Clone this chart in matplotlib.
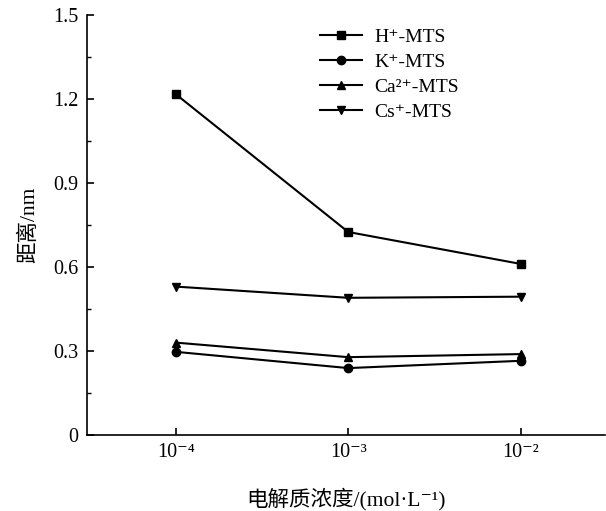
import matplotlib
matplotlib.use("Agg")
import matplotlib.pyplot as plt
from matplotlib.ticker import MultipleLocator, FixedLocator

plt.rcParams['font.family'] = ['Liberation Serif', 'DejaVu Serif', 'Noto Sans CJK SC']

categories = ['10⁻⁴', '10⁻³', '10⁻²']
h_mts = [1.217, 0.725, 0.611]
k_mts = [0.297, 0.239, 0.265]
ca_mts = [0.330, 0.278, 0.289]
cs_mts = [0.530, 0.490, 0.494]
series = [
    ('H⁺-MTS', h_mts, 's'),
    ('K⁺-MTS', k_mts, 'o'),
    ('Ca²⁺-MTS', ca_mts, '^'),
    ('Cs⁺-MTS', cs_mts, 'v'),
]

fig = plt.figure(figsize=(6.06, 5.11), dpi=100)
ax = fig.add_axes([0.1436, 0.1487, 0.855, 0.822])
x = [1, 2, 3]
for label, vals, m in series:
    ax.plot(x, vals, color='black', lw=1.5, marker=m, markersize=6, label=label)

ax.set_xlim(0.485, 3.49)
ax.set_ylim(0, 1.5)
ax.set_xticks(x)
ax.set_xticklabels(categories)
ax.yaxis.set_major_locator(FixedLocator([0, 0.3, 0.6, 0.9, 1.2, 1.5]))
ax.set_yticklabels(['0', '0.3', '0.6', '0.9', '1.2', '1.5'])
ax.yaxis.set_minor_locator(MultipleLocator(0.15))
ax.tick_params(axis='both', which='both', direction='in', labelsize=14.5)
ax.tick_params(which='major', length=5, width=1.2)
ax.tick_params(which='minor', length=3, width=1.0)
ax.tick_params(axis='x', pad=6)
ax.tick_params(axis='y', pad=6)
for s in ['top', 'right']:
    ax.spines[s].set_visible(False)
for s in ['left', 'bottom']:
    ax.spines[s].set_linewidth(1.2)

ax.set_ylabel('距离/nm', fontsize=15.5, labelpad=10)
ax.set_xlabel('电解质浓度/(mol·L⁻¹)', fontsize=15.5, labelpad=18)

ax.legend(loc='upper left', bbox_to_anchor=(0.415, 1.01), frameon=False,
          fontsize=14, handlelength=2.2, labelspacing=0.38, handletextpad=0.6)

fig.savefig('out.png', dpi=100)
